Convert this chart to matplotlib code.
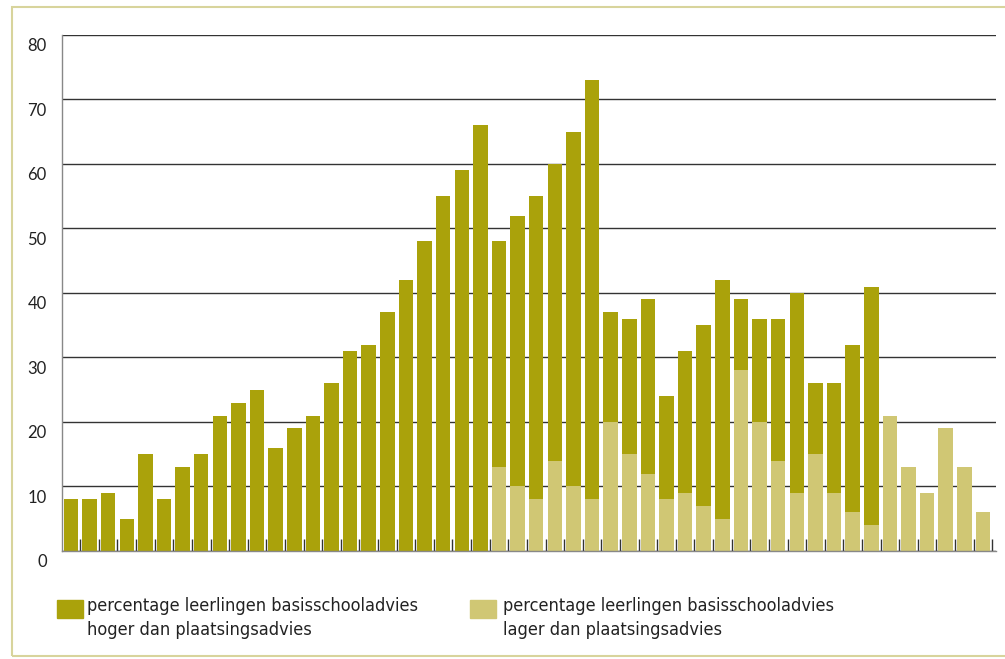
import matplotlib
matplotlib.use('Agg')
import matplotlib.pyplot as plt
import matplotlib.transforms as mtransforms
from matplotlib.patches import Rectangle
import numpy as np

# percentage per school (50 schools), stacked: lager at the bottom, hoger on top
lager = [0] * 23 + [13, 10, 8, 14, 10, 8, 20, 15, 12, 8, 9, 7, 5, 28, 20, 14, 9, 15, 9, 6, 4,
                    21, 13, 9, 19, 13, 6]
hoger = [8, 8, 9, 5, 15, 8, 13, 15, 21, 23, 25, 16, 19, 21, 26, 31, 32, 37, 42, 48, 55, 59, 66,
         35, 42, 47, 46, 55, 65, 17, 21, 27, 16, 22, 28, 37, 11, 16, 22, 31, 11, 17, 26, 37,
         0, 0, 0, 0, 0, 0]
y_ticks = [0, 10, 20, 30, 40, 50, 60, 70, 80]
legend_labels = ['percentage leerlingen basisschooladvies\nhoger dan plaatsingsadvies',
                 'percentage leerlingen basisschooladvies\nlager dan plaatsingsadvies']

DARK = '#aaa20b'
LIGHT = '#d0c774'

fig = plt.figure(figsize=(10.05, 6.59), dpi=100)
ax = fig.add_axes([0.0617, 0.1639, 0.9293, 0.783])

x = np.arange(len(hoger))
ax.bar(x, lager, width=0.78, color=LIGHT, zorder=2)
ax.bar(x, hoger, width=0.78, bottom=lager, color=DARK, zorder=2)

ax.set_xlim(-0.48, 49.7)
ax.set_ylim(0, 80)
ax.set_yticks(y_ticks)
ax.set_yticklabels([str(v) for v in y_ticks], fontsize=12, family='Lato', color='#222222')
ax.tick_params(axis='y', length=0, pad=11)
offset = mtransforms.ScaledTranslation(0, -10 / 100, fig.dpi_scale_trans)
for lab in ax.get_yticklabels():
    lab.set_transform(lab.get_transform() + offset)

ax.set_xticks([])
ax.set_xticks(x + 0.5, minor=True)
ax.tick_params(axis='x', which='minor', direction='in', length=9, width=1, color='#333333')

ax.grid(axis='y', color='#333333', linewidth=1.0, zorder=1)
ax.set_axisbelow(True)
for s in ['top', 'right']:
    ax.spines[s].set_visible(False)
ax.spines['left'].set_color('#888888')
ax.spines['bottom'].set_color('#888888')
ax.spines['left'].set_linewidth(1)
ax.spines['bottom'].set_linewidth(1)

# legend drawn by hand below the plot
for (sx, tx), col, lab in zip([(57, 87), (470, 503)], [DARK, LIGHT], legend_labels):
    fig.patches.append(Rectangle((sx / 1005, 1 - 618 / 659), 26 / 1005, 18 / 659,
                                 transform=fig.transFigure, color=col))
    fig.text(tx / 1005, 1 - 597 / 659, lab, fontsize=13, family='DejaVu Sans',
             fontstretch='condensed', va='top', ha='left',
             color='#222222', linespacing=1.4)

# outer frame
fig.patches.append(Rectangle((12 / 1005, 1 - 656 / 659), 1000 / 1005, 649 / 659,
                             transform=fig.transFigure, fill=False,
                             edgecolor='#d8d49c', linewidth=1.5))

fig.savefig('out.png', dpi=100)
